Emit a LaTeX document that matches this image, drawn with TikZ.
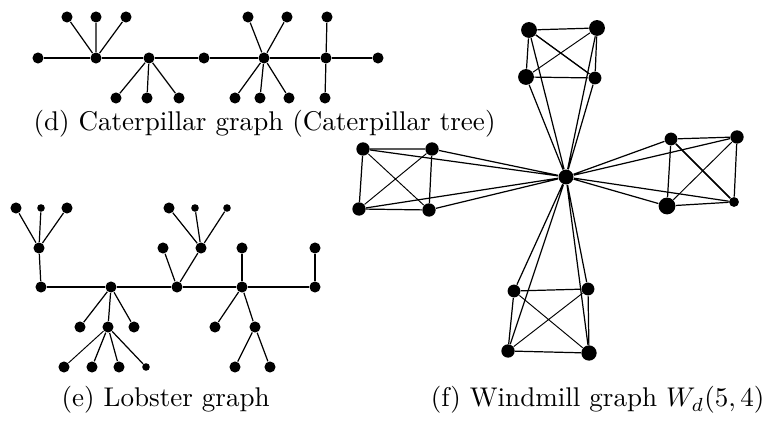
\documentclass[tikz,border=0pt]{standalone}
\begin{document}
\begin{tikzpicture}[x=0.3696pt,y=-0.3696pt,
  v/.style={circle,fill=black,inner sep=0pt,minimum size=4.1pt},
  vs/.style={circle,fill=black,inner sep=0pt,minimum size=2.8pt},
  w/.style={circle,fill=black,inner sep=0pt,minimum size=#1*0.3696pt+0.3pt},
  e/.style={line width=0.45pt},
  ek/.style={line width=0.35pt},
  et/.style={line width=0.6pt},
  lab/.style={anchor=base west,inner sep=0pt,font=\fontsize{10}{12}\selectfont}]
\useasboundingbox (0,0) rectangle (767,424);
% ---------- (d) Caterpillar ----------
\node[v] (c1) at (38,58) {};
\node[v] (c2) at (96,58) {};
\node[v] (c3) at (149,58) {};
\node[v] (c4) at (204,58) {};
\node[v] (c5) at (264,58) {};
\node[v] (c6) at (326,58) {};
\node[v] (c7) at (378,58) {};
\node[v] (t1) at (67,17) {};
\node[v] (t2) at (96,17) {};
\node[v] (t3) at (126,17) {};
\node[v] (t4) at (248,17) {};
\node[v] (t5) at (287,17) {};
\node[v] (t6) at (327,17) {};
\node[v] (b1) at (116,98) {};
\node[v] (b2) at (147,98) {};
\node[v] (b3) at (179,98) {};
\node[v] (b4) at (235,98) {};
\node[v] (b5) at (260,98) {};
\node[v] (b6) at (289,98) {};
\node[v] (b7) at (325,98) {};
\draw[e] (c1)--(c2)--(c3)--(c4)--(c5)--(c6)--(c7);
\draw[e] (c2)--(t1) (c2)--(t2) (c2)--(t3);
\draw[e] (c5)--(t4) (c5)--(t5) (c6)--(t6);
\draw[e] (c3)--(b1) (c3)--(b2) (c3)--(b3);
\draw[e] (c5)--(b4) (c5)--(b5) (c5)--(b6) (c6)--(b7);
\node[lab] (ld) at (33,131) {(d) Caterpillar graph (Caterpillar tree)};
% ---------- (e) Lobster ----------
\node[v] (s1) at (41,287) {};
\node[v] (s2) at (111,287) {};
\node[v] (s3) at (177,287) {};
\node[v] (s4) at (242,287) {};
\node[v] (s5) at (315,287) {};
\node[v] (u1) at (39,248) {};
\node[v] (u11) at (16,208) {};
\node[vs] (u12) at (41,208) {};
\node[v] (u13) at (67,208) {};
\node[v] (u2) at (163,248) {};
\node[v] (u3) at (201,248) {};
\node[v] (u31) at (169,208) {};
\node[vs] (u32) at (195,208) {};
\node[vs] (u33) at (227,208) {};
\node[v] (u4) at (242,248) {};
\node[v] (u5) at (315,248) {};
\node[v] (d1) at (80,327) {};
\node[v] (d2) at (108,327) {};
\node[v] (d3) at (134,327) {};
\node[v] (d21) at (64,367) {};
\node[v] (d22) at (92,367) {};
\node[v] (d23) at (119,367) {};
\node[vs] (d24) at (146,367) {};
\node[v] (d4) at (215,327) {};
\node[v] (d5) at (255,327) {};
\node[v] (d51) at (235,367) {};
\node[v] (d52) at (270,367) {};
\draw[e] (s1)--(s2)--(s3)--(s4)--(s5);
\draw[e] (s1)--(u1) (u1)--(u11) (u1)--(u12) (u1)--(u13);
\draw[e] (s3)--(u2) (s3)--(u3) (u3)--(u31) (u3)--(u32) (u3)--(u33);
\draw[e] (s4)--(u4) (s5)--(u5);
\draw[e] (s2)--(d1) (s2)--(d2) (s2)--(d3);
\draw[ek] (d2)--(d21);
\draw[e] (d2)--(d22) (d2)--(d23) (d2)--(d24);
\draw[e] (s4)--(d4) (s4)--(d5) (d5)--(d51) (d5)--(d52);
\node[lab] (le) at (61,407) {(e) Lobster graph};
% ---------- (f) Windmill ----------
\node[w=14] (h) at (566,177) {};
% top
\node[w=15] (a1) at (529,30) {};
\node[w=15] (a2) at (597,28) {};
\node[w=15] (a3) at (526,77) {};
\node[w=12] (a4) at (595,78) {};
% left
\node[w=12.5] (l1) at (363,149) {};
\node[w=12.5] (l2) at (432,149) {};
\node[w=12.5] (l3) at (359,209) {};
\node[w=12.5] (l4) at (429,210) {};
% right
\node[w=12] (r1) at (671,139) {};
\node[w=12.5] (r2) at (737,137) {};
\node[w=16] (r3) at (667,206) {};
\node[w=9] (r4) at (734,202) {};
% bottom
\node[w=12] (q1) at (514,291) {};
\node[w=12] (q2) at (588,289) {};
\node[w=12.5] (q3) at (508,351) {};
\node[w=14.5] (q4) at (589,353) {};
\foreach \k in {a,l,r,q}{
  \draw[e] (\k1)--(\k2) (\k1)--(\k3) (\k2)--(\k4) (\k3)--(\k4);
  \draw[ek] (\k1)--(\k4) (\k2)--(\k3);
  \draw[e] (\k1)--(h) (\k2)--(h) (\k3)--(h) (\k4)--(h);
}
\draw[et] (r1)--(r4);
\draw[e] (a1)--(a4);
\node[lab,anchor=base east] (lf) at (765,407) {(f) Windmill graph $W_d(5,4)$};
\end{tikzpicture}
\end{document}
